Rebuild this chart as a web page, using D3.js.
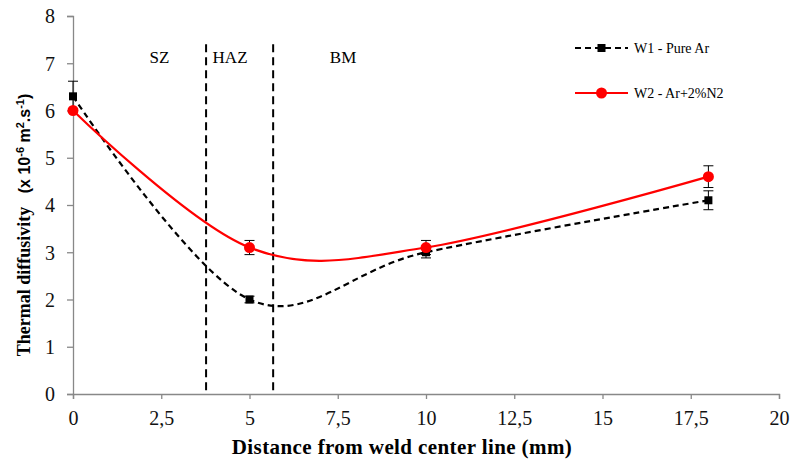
<!DOCTYPE html>
<html>
<head>
<script src="https://d3js.org/d3.v7.min.js"></script>
<style>
  body { margin: 0; background: #fff; overflow: hidden; }
  svg text { font-family: "Liberation Serif", "Times New Roman", serif; }
</style>
</head>
<body>
<svg id="chart" width="792" height="459"></svg>
<script>
// data
const distances = [0, 5, 10, 18];
const w1Values = [6.3, 2.0, 3.0, 4.1];
const w1Errors = [0.32, 0.07, 0.12, 0.2];
const w2Values = [6.0, 3.1, 3.1, 4.6];
const w2Errors = [0.0, 0.15, 0.15, 0.23];
const xTicks = [0, 2.5, 5, 7.5, 10, 12.5, 15, 17.5, 20];
const yTicks = [0, 1, 2, 3, 4, 5, 6, 7, 8];
const zoneBounds = [3.77, 5.67];
const zoneLabels = [{ name: "SZ", x: 2.45 }, { name: "HAZ", x: 4.45 }, { name: "BM", x: 7.65 }];

const svg = d3.select("#chart");
const x = d3.scaleLinear().domain([0, 20]).range([73, 779]);
const y = d3.scaleLinear().domain([0, 8]).range([394, 16]);

const axisColor = "#888";

// axes
const xAxis = svg.append("g").attr("transform", `translate(0,${y(0)})`)
  .call(d3.axisBottom(x).tickValues(xTicks).tickSize(5).tickPadding(12)
    .tickFormat(d => String(d).replace(".", ",")));
const yAxis = svg.append("g").attr("transform", `translate(${x(0)},0)`)
  .call(d3.axisLeft(y).tickValues(yTicks).tickSize(6).tickPadding(12));
[xAxis, yAxis].forEach(a => {
  a.select(".domain").attr("stroke", axisColor).attr("stroke-width", 1.3);
  a.selectAll(".tick line").attr("stroke", axisColor).attr("stroke-width", 1.3);
  a.selectAll(".tick text").attr("fill", "#111").style("font-size", "20px")
    .style("font-family", "Liberation Serif, serif");
});
yAxis.selectAll(".tick text").attr("dy", "0.34em");

// zone boundaries
zoneBounds.forEach(b => {
  svg.append("line")
    .attr("x1", x(b)).attr("x2", x(b))
    .attr("y1", y(7.4)).attr("y2", y(0))
    .attr("stroke", "#000").attr("stroke-width", 2)
    .attr("stroke-dasharray", "8,5");
});
zoneLabels.forEach(z => {
  svg.append("text").attr("x", x(z.x)).attr("y", 63)
    .attr("text-anchor", "middle").style("font-size", "17px").text(z.name);
});

const curve = d3.curveCardinal.tension(0);
function drawSeries(vals, errs, color, dashed, marker) {
  const pts = distances.map((d, i) => ({ x: d, y: vals[i], e: errs[i] }));
  svg.append("path").datum(pts)
    .attr("d", d3.line().x(d => x(d.x)).y(d => y(d.y)).curve(curve))
    .attr("fill", "none").attr("stroke", color).attr("stroke-width", 2.2)
    .attr("stroke-dasharray", dashed ? "6,4" : null);
  const eb = svg.append("g");
  pts.filter(p => p.e > 0).forEach(p => {
    const cx = x(p.x);
    eb.append("line").attr("x1", cx).attr("x2", cx)
      .attr("y1", y(p.y - p.e)).attr("y2", y(p.y + p.e))
      .attr("stroke", "#000").attr("stroke-width", 1);
    [p.y - p.e, p.y + p.e].forEach(v => {
      eb.append("line").attr("x1", cx - 5).attr("x2", cx + 5)
        .attr("y1", y(v)).attr("y2", y(v))
        .attr("stroke", "#000").attr("stroke-width", 1);
    });
  });
  pts.forEach(p => marker(svg, x(p.x), y(p.y)));
}
const square = (g, cx, cy) => g.append("rect").attr("x", cx - 4).attr("y", cy - 4)
  .attr("width", 8).attr("height", 8).attr("fill", "#000");
const dot = (g, cx, cy) => g.append("circle").attr("cx", cx).attr("cy", cy)
  .attr("r", 5.5).attr("fill", "red");

drawSeries(w1Values, w1Errors, "#000", true, square);
drawSeries(w2Values, w2Errors, "red", false, dot);

// legend
const legend = [
  { label: "W1 - Pure Ar", color: "#000", dashed: true, marker: square, y: 48 },
  { label: "W2 - Ar+2%N2", color: "red", dashed: false, marker: dot, y: 93 }
];
legend.forEach(l => {
  svg.append("line").attr("x1", 575).attr("x2", 628).attr("y1", l.y).attr("y2", l.y)
    .attr("stroke", l.color).attr("stroke-width", 2.2)
    .attr("stroke-dasharray", l.dashed ? "6,4" : null);
  l.marker(svg, 601.5, l.y);
  svg.append("text").attr("x", 634).attr("y", l.y + 5)
    .style("font-size", "14px").text(l.label);
});

// axis titles
svg.append("text").attr("x", 402).attr("y", 454).attr("text-anchor", "middle")
  .style("font-size", "21px").style("font-weight", "bold").style("letter-spacing", "0.4px")
  .text("Distance from weld center line (mm)");

const yt = svg.append("text").attr("transform", "translate(30,225) rotate(-90)")
  .attr("text-anchor", "middle").style("font-size", "18px").style("font-weight", "bold")
  .style("white-space", "pre");
yt.append("tspan").text("Thermal diffusivity   ");
const sans = "Liberation Sans, Arial, sans-serif";
yt.append("tspan").style("font-family", sans).style("font-size", "16px").text("(x 10");
yt.append("tspan").style("font-family", sans).style("font-size", "11px").attr("dy", -6).text("-6");
yt.append("tspan").style("font-family", sans).style("font-size", "16px").attr("dy", 6).text(" m");
yt.append("tspan").style("font-family", sans).style("font-size", "11px").attr("dy", -6).text("2");
yt.append("tspan").style("font-family", sans).style("font-size", "16px").attr("dy", 6).text(".s");
yt.append("tspan").style("font-family", sans).style("font-size", "11px").attr("dy", -6).text("-1");
yt.append("tspan").style("font-family", sans).style("font-size", "16px").attr("dy", 6).text(")");
</script>
</body>
</html>
